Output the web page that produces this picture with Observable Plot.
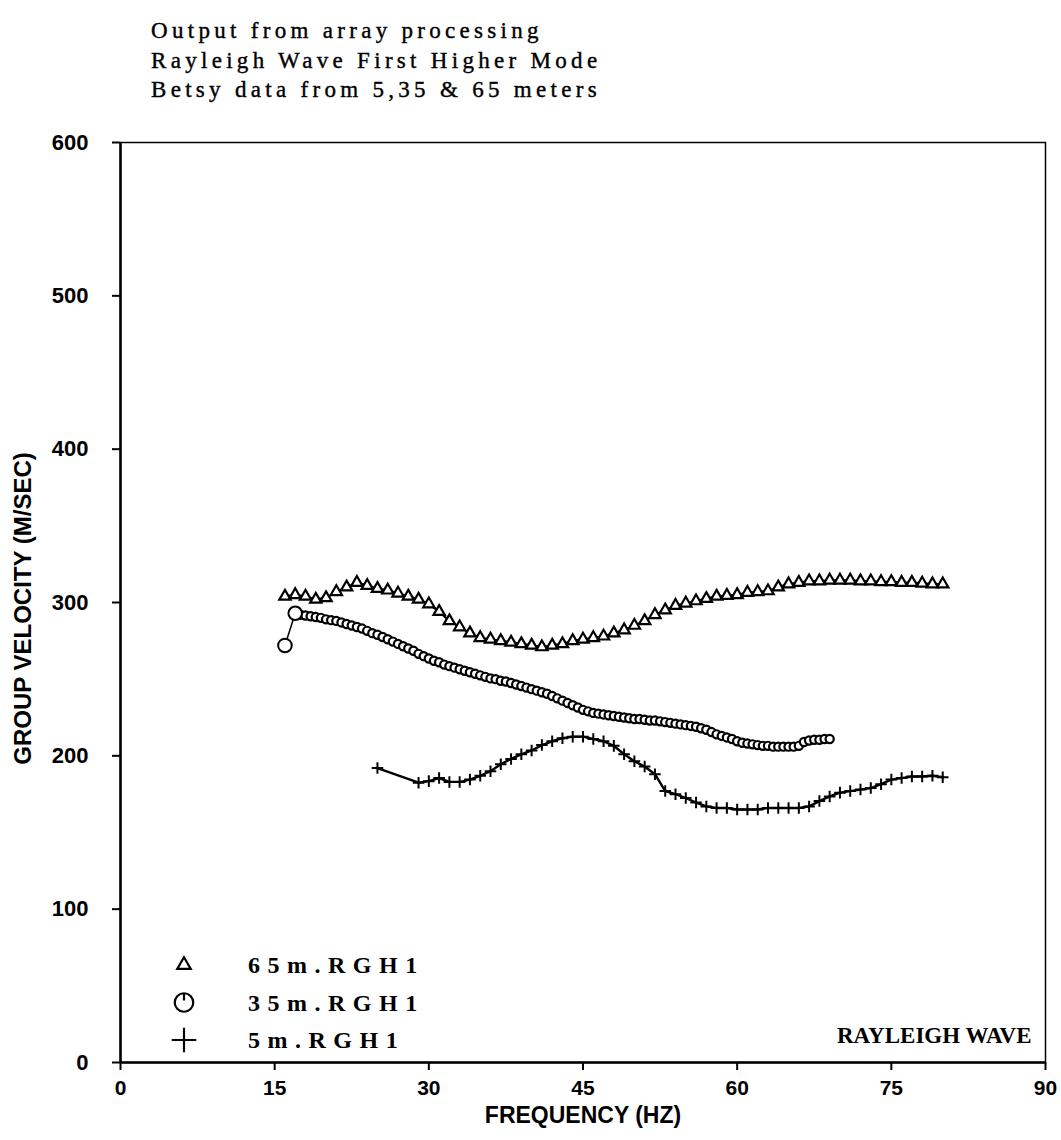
<!DOCTYPE html>
<html><head><meta charset="utf-8">
<script src="https://cdn.jsdelivr.net/npm/d3@7"></script>
<script src="https://cdn.jsdelivr.net/npm/@observablehq/plot@0.6"></script>
<style>
body{margin:0;background:#fff;}
#wrap{position:relative;width:1061px;height:1140px;overflow:hidden;}
#title{position:absolute;left:151px;top:16px;font-family:"Liberation Serif",serif;font-size:23px;letter-spacing:4.3px;line-height:29.5px;color:#000;white-space:nowrap;-webkit-text-stroke:0.4px #000;}
#legend{position:absolute;left:0;top:0;}
</style></head>
<body>
<div id="wrap">
<div id="chart"></div>
<div id="title"></div>
<svg id="legend" width="1061" height="1140"></svg>
</div>
<script>
const titleLines = ["Output from array processing", "Rayleigh Wave First Higher Mode", "Betsy data from 5,35 & 65 meters"];
const xLabel = "FREQUENCY (HZ)";
const yLabel = "GROUP VELOCITY (M/SEC)";
const cornerNote = "RAYLEIGH WAVE";
const xTicks = [0, 15, 30, 45, 60, 75, 90];
const yTicks = [0, 100, 200, 300, 400, 500, 600];
const seriesNames = ["65m.RGH1", "35m.RGH1", "5m.RGH1"];

// 65 m series
const freq65 = [16,17,18,19,20,21,22,23,24,25,26,27,28,29,30,31,32,33,34,35,36,37,38,39,40,41,42,43,44,45,46,47,48,49,50,51,52,53,54,55,56,57,58,59,60,61,62,63,64,65,66,67,68,69,70,71,72,73,74,75,76,77,78,79,80];
const vel65 = [304,305,304,302,303,307,310,313,311,309,308,306,304,302,299,294,288,284,280,277,276,275,274,273,272,271,272,273,275,276,277,278,280,282,285,288,292,295,298,299.5,301,302.5,304,304.5,305,306.5,307,307.5,310,312,313,314,314,314.5,314.5,314.5,314,314,313.5,313.5,313,313,312.5,312,312];

// 35 m series
const freq35 = [16,17,17.5,18,18.5,19,19.5,20,20.5,21,21.5,22,22.5,23,23.5,24,24.5,25,25.5,26,26.5,27,27.5,28,28.5,29,29.5,30,30.5,31,31.5,32,32.5,33,33.5,34,34.5,35,35.5,36,36.5,37,37.5,38,38.5,39,39.5,40,40.5,41,41.5,42,42.5,43,43.5,44,44.5,45,45.5,46,46.5,47,47.5,48,48.5,49,49.5,50,50.5,51,51.5,52,52.5,53,53.5,54,54.5,55,55.5,56,56.5,57,57.5,58,58.5,59,59.5,60,60.5,61,61.5,62,62.5,63,63.5,64,64.5,65,65.5,66,66.5,67,67.5,68,68.5,69];
const vel35 = [272,293,292,291.5,291,290.5,290,289,288.5,288,287,286,285,284,283,281.5,280,279,277.5,276,274.5,273,271.5,270,268.5,266.5,265,263.5,262,261,259.5,258.5,257.5,256.5,255.5,254.5,253.5,252.5,251.5,250.5,250,249,248.5,247.5,246.5,245.5,244.5,243.5,242.5,241.5,240.5,239,237.5,236,234.5,233,231.5,230,229,228,227.5,227,226.5,226,225.5,225,224.5,224,224,223.5,223,223,222.5,222,221.5,221,220.5,220,219.5,219,218,217,215.5,214,213,212,211,209.5,208.5,208,207.5,207,206.5,206.5,206,206,206,206,206,206.5,209,210,210.5,210.5,211,211];

// 5 m series
const freq5 = [25,29,30,31,32,33,34,35,36,37,38,39,40,41,42,43,44,45,46,47,48,49,50,51,52,53,54,55,56,57,58,59,60,61,62,63,64,65,66,67,68,69,70,71,72,73,74,75,76,77,78,79,80];
const vel5 = [192,182.5,183.5,185.5,183,183,184.5,187,190,194.5,198,201,203.5,207,209.5,211.5,212.5,212.5,211,209.5,206.5,201,196.5,193,188,177,175,172.5,169.5,167,166,166,165,165,165,166,166,166,166,167,170.5,173.5,176,177,178,179,181.5,184.5,185.5,186.5,186.5,187,186];

const toRows = (fs, vs) => fs.map((f, i) => ({f, v: vs[i]}));
const d65 = toRows(freq65, vel65);
const d35 = toRows(freq35, vel35);
const d5 = toRows(freq5, vel5);

document.getElementById("title").innerHTML = titleLines.map(t => `<div>${t.replace(/&/g,"&amp;")}</div>`).join("");

const serif = '"Liberation Serif", "DejaVu Serif", serif';
const sans = '"Liberation Sans", "DejaVu Sans", sans-serif';

const chart = Plot.plot({
  width: 1061,
  height: 1140,
  marginTop: 142,
  marginLeft: 120,
  marginRight: 16,
  marginBottom: 78,
  style: {fontFamily: sans, fontSize: "21px", fontWeight: "bold", background: "#fff", color: "#000"},
  x: {domain: [0, 90]},
  y: {domain: [0, 600]},
  marks: [
    Plot.frame({stroke: "#000", strokeWidth: 1.5}),
    Plot.ruleX([0], {stroke: "#000", strokeWidth: 2.5}),
    Plot.ruleY([0], {stroke: "#000", strokeWidth: 2.5}),
    Plot.axisX({ticks: xTicks, tickSize: 8, tickPadding: 10, label: null, strokeWidth: 2, fontSize: 21, fontWeight: "bold", fontFamily: sans}),
    Plot.axisY({ticks: yTicks, tickSize: 8, tickPadding: 24, label: null, strokeWidth: 2, fontSize: 22, fontWeight: "bold", fontFamily: sans}),
    Plot.text([xLabel], {frameAnchor: "bottom", textAnchor: "middle", lineAnchor: "bottom", dy: 60, fontFamily: sans, fontSize: 23, fontWeight: "bold", text: d => d}),
    Plot.text([yLabel], {frameAnchor: "left", textAnchor: "middle", dx: -97, dy: 6, rotate: -90, fontFamily: sans, fontSize: 24, fontWeight: "bold", text: d => d}),
    Plot.text([cornerNote], {frameAnchor: "bottom-right", textAnchor: "end", dx: -14, dy: -20, fontFamily: serif, fontSize: 23, fontWeight: "bold", letterSpacing: "0.8px", text: d => d}),
    // 65 m
    Plot.line(d65, {x: "f", y: "v", stroke: "#000", strokeWidth: 2.2}),
    Plot.dot(d65, {x: "f", y: "v", symbol: "triangle", r: 4.2, fill: "#fff", stroke: "#000", strokeWidth: 2.2}),
    // 35 m
    Plot.line(d35, {x: "f", y: "v", stroke: "#000", strokeWidth: 1.5}),
    Plot.dot(d35.slice(2), {x: "f", y: "v", r: 4.1, fill: "#fff", stroke: "#000", strokeWidth: 2.2}),
    Plot.dot(d35.slice(0, 2), {x: "f", y: "v", r: 6.8, fill: "#fff", stroke: "#000", strokeWidth: 2}),
    // 5 m
    Plot.line(d5, {x: "f", y: "v", stroke: "#000", strokeWidth: 2.4}),
    Plot.dot(d5, {x: "f", y: "v", symbol: "plus", r: 3.8, stroke: "#000", strokeWidth: 2})
  ]
});
document.getElementById("chart").appendChild(chart);

// Legend
const lg = d3.select("#legend");
const legendSymbols = [d3.symbolTriangle2, d3.symbolCircle, d3.symbolPlus];
const legendSizes = [130, 270, 200];
seriesNames.forEach((name, i) => {
  const cy = 965 + i * 37.5;
  lg.append("path")
    .attr("d", d3.symbol(legendSymbols[i], legendSizes[i])())
    .attr("transform", `translate(184,${cy})`)
    .attr("fill", "none").attr("stroke", "#000").attr("stroke-width", 2.2);
  if (i === 1) lg.append("line").attr("x1", 184).attr("x2", 184).attr("y1", cy - 9).attr("y2", cy - 2).attr("stroke", "#000").attr("stroke-width", 2.2);
  lg.append("text").attr("x", 248).attr("y", cy).attr("dy", "0.35em")
    .attr("font-family", serif).attr("font-size", 24).attr("font-weight", "bold")
    .attr("letter-spacing", "7.5px").text(name);
});
</script>
</body></html>
